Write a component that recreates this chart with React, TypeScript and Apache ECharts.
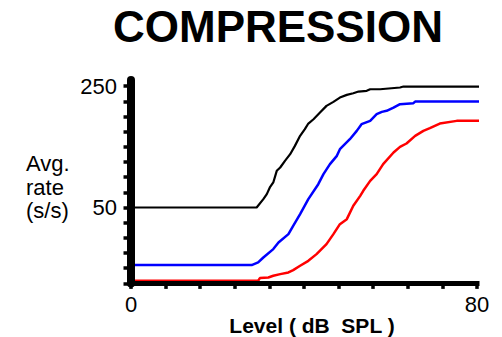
import React, { useEffect, useRef } from "react";
import * as echarts from "echarts";

const titleText = "COMPRESSION";
const xAxisName = "Level ( dB  SPL )";
const yAxisName = "Avg.\nrate\n(s/s)";
const yLabelValues = [50, 250];
const xLabelValues = [0, 80];

const blackSeries: [number, number][] = [
  [0, 50], [29.05, 50], [30.6, 63.8], [31.4, 72], [32.1, 83], [32.9, 91.2], [33.7, 110.4],
  [34.5, 115.9], [35.6, 126.9], [36.8, 137.8], [37.9, 151.5], [39.1, 168], [40.2, 179],
  [41.0, 188.3], [42.2, 195.4], [43.7, 206.4], [45.2, 217.4], [46.8, 224], [48.3, 231.1],
  [49.9, 235.5], [51.4, 238.2], [52.6, 241], [54.5, 242.1], [55.3, 244.8], [57.6, 244.8],
  [62.2, 247.6], [63.0, 249.2], [83.8, 249.2],
];

const blueSeries: [number, number][] = [
  [0, -44.9], [27.9, -44.9], [29.4, -40.5], [30.6, -32.3], [32.9, -18.5], [34.1, -7.6],
  [36.4, 6.1], [37.5, 19.9], [39.1, 39.1], [41.0, 63.8], [43.3, 88.4], [44.5, 104.9],
  [46.0, 121.4], [47.6, 135.1], [48.3, 146.1], [50.6, 162.5], [52.2, 176.2], [53.3, 187.2],
  [55.3, 192.7], [56.8, 203.7], [58.0, 207.5], [59.1, 209.2], [60.7, 214.6], [62.2, 220.1],
  [65.3, 221.8], [65.7, 224.5], [83.8, 224.5],
];

const redSeries: [number, number][] = [
  [0, -70.7], [29.4, -70.7], [29.8, -66.3], [31.75, -65.2], [32.9, -62.5], [34.5, -59.7],
  [36.4, -57], [37.5, -53.1], [39.1, -46], [41.0, -37.8], [42.9, -26.8], [45.2, -10.3],
  [46.8, 6.1], [48.3, 22.6], [49.9, 30.8], [51.4, 52.8], [53.0, 69.2], [53.7, 77.5],
  [55.3, 93.9], [56.8, 104.9], [58.3, 121.4], [60.7, 140.6], [62.2, 149.9], [63.7, 155.4],
  [65.7, 168], [67.6, 176.2], [69.1, 180.6], [71.4, 188.3], [75.3, 192.7], [83.8, 192.7],
];

const FONT = "'Liberation Sans', Arial, Helvetica, sans-serif";

export default function App() {
  const ref = useRef<HTMLDivElement>(null);
  useEffect(() => {
    if (!ref.current) return;
    const chart = echarts.init(ref.current, null, { renderer: "svg" });
    const mkLine = (data: [number, number][], color: string, width: number) => ({
      type: "line",
      data,
      showSymbol: false,
      symbol: "none",
      clip: false,
      lineStyle: { color, width },
      z: 2,
    });
    chart.setOption({
      animation: false,
      backgroundColor: "#ffffff",
      grid: { left: 131, right: 25, top: 80, bottom: 53.6, containLabel: false },
      xAxis: {
        type: "value",
        min: 0,
        max: 80,
        interval: 8,
        splitLine: { show: false },
        axisLine: { show: true, onZero: false, lineStyle: { color: "#000", width: 5, cap: "square" } },
        axisTick: { show: true, length: 5.5, lineStyle: { color: "#000", width: 3.5 } },
        axisLabel: {
          margin: 10,
          fontSize: 22,
          fontFamily: FONT,
          color: "#000",
          formatter: (v: number) => (xLabelValues.includes(v) ? String(v) : ""),
        },
        z: 3,
      },
      yAxis: {
        type: "value",
        min: -75,
        max: 260,
        interval: 25,
        splitLine: { show: false },
        axisLine: { show: true, onZero: false, lineStyle: { color: "#000", width: 8 } },
        axisTick: { show: true, length: 7.5, lineStyle: { color: "#000", width: 3.5 } },
        axisLabel: {
          margin: 14,
          fontSize: 22,
          fontFamily: FONT,
          color: "#000",
          showMaxLabel: false,
          formatter: (v: number) => (yLabelValues.includes(v) ? String(v) : ""),
        },
        z: 4,
      },
      graphic: [
        {
          type: "text",
          x: 278,
          y: 26,
          style: {
            text: titleText,
            fontSize: 44,
            fontWeight: "bold",
            fontFamily: FONT,
            fill: "#000",
            textAlign: "center",
            textVerticalAlign: "middle",
          },
        },
        {
          type: "text",
          x: 26,
          y: 152,
          style: {
            text: yAxisName,
            fontSize: 22,
            lineHeight: 23.5,
            fontFamily: FONT,
            fill: "#000",
            textAlign: "left",
            textVerticalAlign: "top",
          },
        },
        {
          type: "text",
          x: 312,
          y: 325,
          style: {
            text: xAxisName,
            fontSize: 21,
            fontWeight: "bold",
            fontFamily: FONT,
            fill: "#000",
            textAlign: "center",
            textVerticalAlign: "middle",
          },
        },
      ],
      series: [
        mkLine(blackSeries, "#000000", 2.2),
        mkLine(blueSeries, "#0000ff", 2.5),
        mkLine(redSeries, "#ff0000", 2.5),
      ],
    });
    return () => chart.dispose();
  }, []);
  return (
    <div
      ref={ref}
      style={{ position: "absolute", left: 0, top: 0, width: 502, height: 337 }}
    />
  );
}
